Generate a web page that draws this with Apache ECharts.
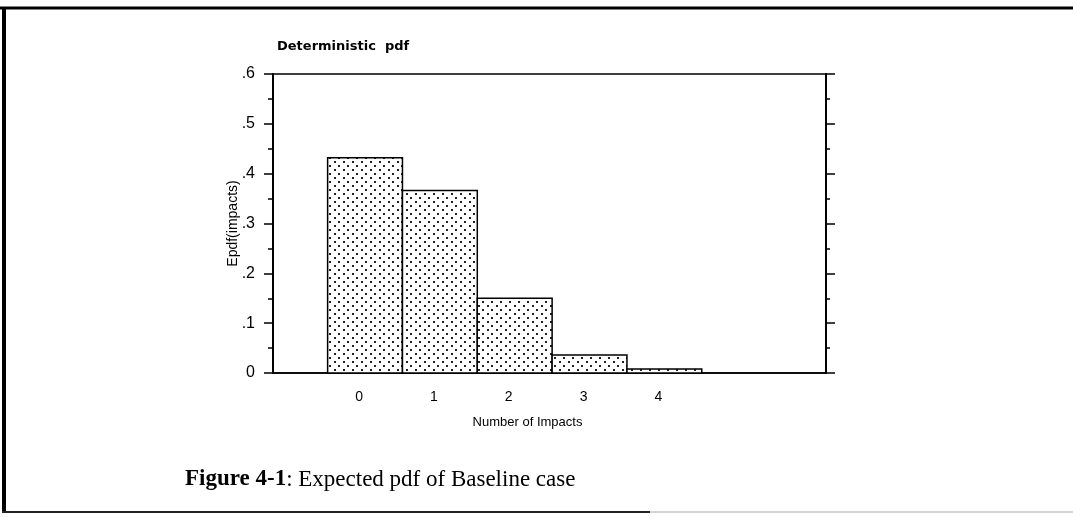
<!DOCTYPE html>
<html>
<head>
<meta charset="utf-8">
<script src="https://cdn.jsdelivr.net/npm/echarts@6/dist/echarts.min.js"></script>
<style>
  html, body { margin: 0; padding: 0; background: #fff; }
  #chart { width: 1073px; height: 518px; }
</style>
</head>
<body>
<div id="chart"></div>
<script>
// data
const impacts = [0, 1, 2, 3, 4];
const epdf = [0.432, 0.366, 0.150, 0.036, 0.008];
const xTickLabels = ["0", "1", "2", "3", "4"];
const yTickLabels = ["0", ".1", ".2", ".3", ".4", ".5", ".6"];

const fontSans = "'Liberation Sans', Arial, sans-serif";

// stipple fill like the old mac print
function dotPattern() {
  const c = document.createElement("canvas");
  c.width = 9;
  c.height = 8;
  const ctx = c.getContext("2d");
  ctx.fillStyle = "#fff";
  ctx.fillRect(0, 0, 9, 8);
  ctx.fillStyle = "#222";
  ctx.fillRect(1, 1, 2, 2);
  ctx.fillRect(5, 5, 2, 2);
  return c;
}
const pattern = { image: dotPattern(), repeat: "repeat" };

function renderBar(params, api) {
  const x = api.value(0);
  const y = api.value(1);
  const p0 = api.coord([x - 0.5, y]);
  const p1 = api.coord([x + 0.5, 0]);
  return {
    type: "rect",
    shape: { x: p0[0], y: p0[1], width: p1[0] - p0[0], height: p1[1] - p0[1] },
    style: { fill: pattern, stroke: "#000", lineWidth: 1.5 },
  };
}

const yLabel = (v) => yTickLabels[Math.round(v * 10)] ?? "";

const chart = echarts.init(document.getElementById("chart"), null, { renderer: "canvas" });
chart.setOption({
  animation: false,
  backgroundColor: "#fff",
  title: [
    {
      text: "Deterministic  pdf",
      left: 277,
      top: 40,
      padding: 0,
      textStyle: { fontFamily: "'DejaVu Sans'", fontWeight: "bold", fontSize: 13, color: "#000" },
    },
    {
      text: "{b|Figure 4-1}{r|: Expected pdf of Baseline case}",
      left: 185,
      top: 468,
      padding: 0,
      textStyle: {
        fontWeight: "normal",
        rich: {
          b: { fontFamily: "'Liberation Serif', serif", fontWeight: "bold", fontSize: 23, color: "#000" },
          r: { fontFamily: "'Liberation Serif', serif", fontWeight: "normal", fontSize: 23, color: "#000" },
        },
      },
    },
  ],
  graphic: [
    { type: "line", shape: { x1: 0, y1: 8, x2: 1073, y2: 8 }, style: { stroke: "#000", lineWidth: 3 } },
    { type: "line", shape: { x1: 4, y1: 7, x2: 4, y2: 513 }, style: { stroke: "#000", lineWidth: 4 } },
    { type: "line", shape: { x1: 2, y1: 512, x2: 650, y2: 512 }, style: { stroke: "#222", lineWidth: 2 } },
    { type: "line", shape: { x1: 650, y1: 512, x2: 1073, y2: 512 }, style: { stroke: "#aaa", lineWidth: 1 } },
  ],
  grid: { left: 273, right: 247, top: 74, bottom: 145, show: true, borderColor: "#000", borderWidth: 1.5 },
  xAxis: {
    type: "value",
    min: -1.23,
    max: 6.16,
    splitLine: { show: false },
    axisLine: { onZero: false, lineStyle: { color: "#000", width: 1.5 } },
    axisTick: { show: false },
    axisLabel: {
      customValues: impacts,
      formatter: (v) => xTickLabels[impacts.indexOf(v)] ?? "",
      fontFamily: fontSans,
      fontSize: 14,
      color: "#000",
      margin: 17,
      padding: [0, 12, 0, 0],
    },
    name: "Number of Impacts",
    nameLocation: "middle",
    nameGap: 43,
    nameMoveOverlap: false,
    nameTextStyle: { fontFamily: fontSans, fontSize: 13, color: "#000", padding: [0, 44, 0, 0] },
  },
  yAxis: [
    {
      type: "value",
      min: 0,
      max: 0.6,
      interval: 0.1,
      splitLine: { show: false },
      axisLine: { show: true, onZero: false, lineStyle: { color: "#000", width: 2 } },
      axisTick: { show: true, length: 9, lineStyle: { color: "#000", width: 1.5 } },
      minorTick: { show: true, splitNumber: 2, length: 5, lineStyle: { color: "#000", width: 1.5 } },
      axisLabel: { formatter: yLabel, fontFamily: fontSans, fontSize: 16, color: "#000", margin: 18 },
      name: "Epdf(impacts)",
      nameLocation: "middle",
      nameRotate: 90,
      nameGap: 33,
      nameMoveOverlap: false,
      nameTextStyle: { fontFamily: fontSans, fontSize: 14, color: "#000" },
    },
    {
      type: "value",
      position: "right",
      min: 0,
      max: 0.6,
      interval: 0.1,
      splitLine: { show: false },
      axisLine: { show: true, onZero: false, lineStyle: { color: "#000", width: 2 } },
      axisTick: { show: true, length: 9, lineStyle: { color: "#000", width: 1.5 } },
      minorTick: { show: true, splitNumber: 2, length: 4, lineStyle: { color: "#000", width: 1.5 } },
      axisLabel: { show: false },
    },
  ],
  series: [
    {
      type: "custom",
      renderItem: renderBar,
      encode: { x: 0, y: 1 },
      data: impacts.map((x, i) => [x, epdf[i]]),
    },
  ],
});
</script>
</body>
</html>
